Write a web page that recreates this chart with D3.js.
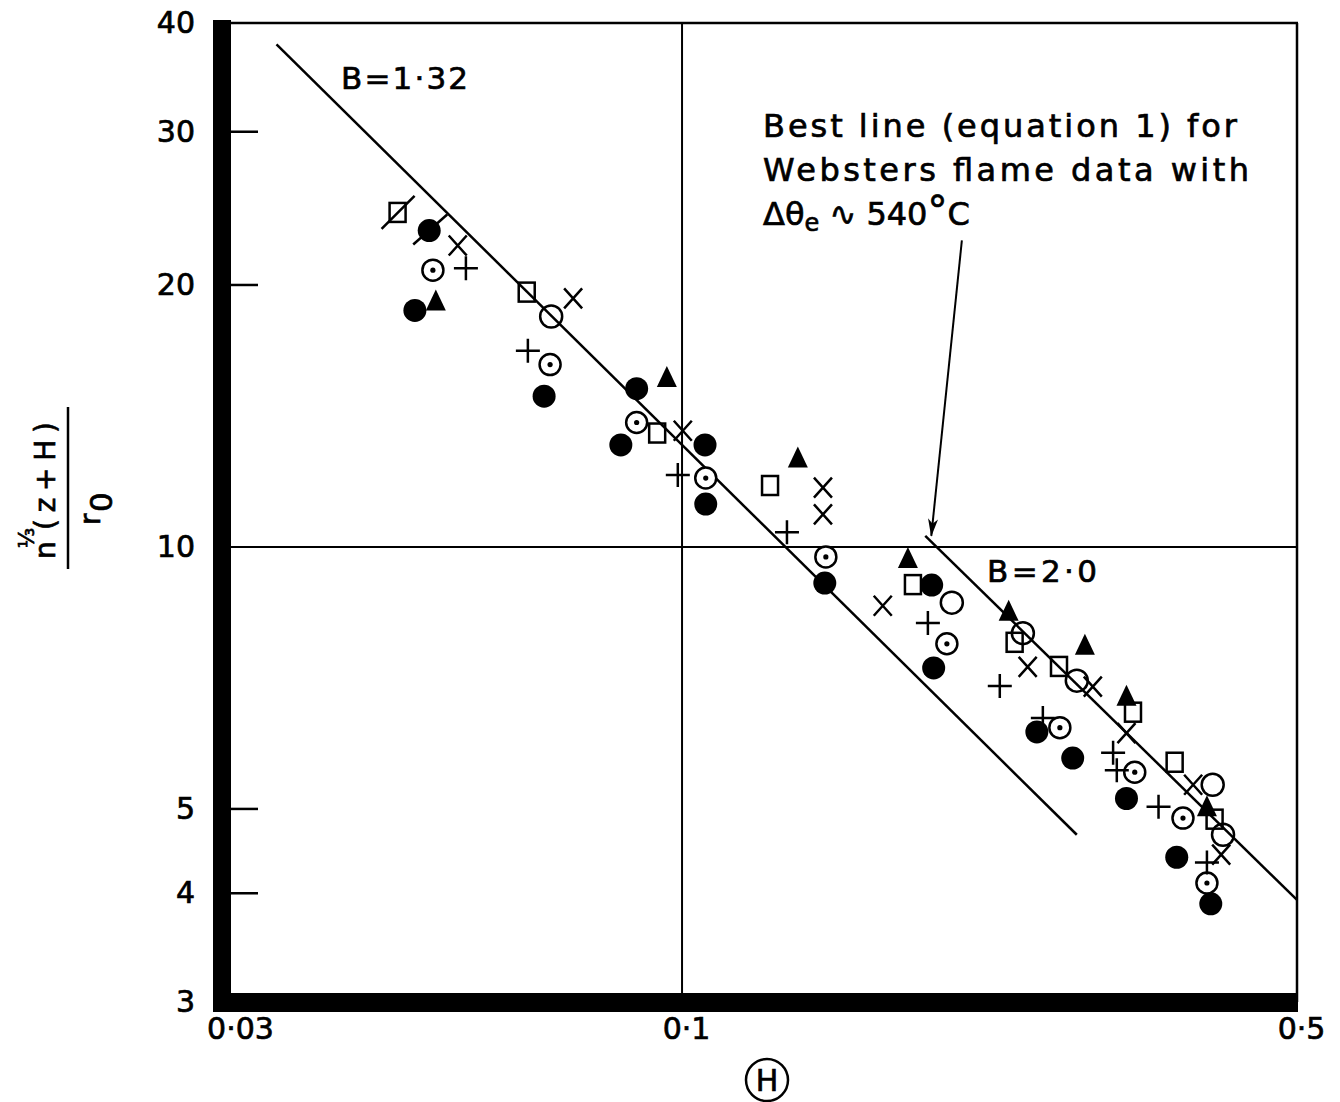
<!DOCTYPE html>
<html>
<head>
<meta charset="utf-8">
<script src="https://cdn.jsdelivr.net/npm/d3@7"></script>
<style>
  body { margin: 0; background: #fff; }
  svg { display: block; }
  text { font-family: "DejaVu Sans", sans-serif; fill: #000; stroke: #000; stroke-width: 0.7px; }
</style>
</head>
<body>
<svg id="chart" width="1340" height="1102"></svg>
<script>
// tick values
const xTicks = [0.03, 0.1, 0.5];
const yTicks = [3, 4, 5, 10, 20, 30, 40];
const yMarks = [4, 5, 20, 30];
const xGrid = [0.1];
const yGrid = [10];

// data  [H, n^(1/3)(z+H)/r0]
const filledDots = [[0.0516,23.1],[0.0497,18.7],[0.0697,14.9],[0.0888,15.2],[0.0852,13.1],[0.1062,13.1],
  [0.1064,11.2],[0.1453,9.09],[0.1922,9.04],[0.1932,7.26],[0.2531,6.13],[0.278,5.72],[0.320,5.14],
  [0.365,4.40],[0.399,3.89]];
const slashedDots = [[0.0516,23.1]];
const dottedCircles = [[0.0521,20.8],[0.0708,16.2],[0.0888,13.9],[0.1064,12.0],[0.1457,9.74],[0.200,7.74],
  [0.2688,6.20],[0.327,5.51],[0.371,4.88],[0.395,4.11]];
const openCircles = [[0.0710,18.4],[0.2026,8.63],[0.2440,7.96],[0.2810,7.02],[0.401,5.33],[0.412,4.67]];
const squares = [[0.0666,19.6],[0.0937,13.5],[0.1259,11.75],[0.1830,9.04],[0.2388,7.76],[0.2682,7.28],
  [0.3255,6.45],[0.363,5.65],[0.403,4.86]];
const slashedSquares = [[0.0475,24.2]];
const triangles = [[0.0525,19.1],[0.0961,15.6],[0.1354,12.6],[0.1806,9.66],[0.2351,8.40],[0.287,7.68],
  [0.320,6.71],[0.395,5.01]];
const crosses = [[0.0556,22.2],[0.0752,19.3],[0.1002,13.6],[0.1446,11.7],[0.1446,10.9],[0.1691,8.56],
  [0.2471,7.28],[0.293,6.91],[0.320,6.11],[0.381,5.33],[0.410,4.43]];
const pluses = [[0.0568,20.9],[0.0668,16.8],[0.0989,12.1],[0.1316,10.4],[0.1903,8.18],[0.2297,6.92],
  [0.2571,6.36],[0.309,5.80],[0.312,5.54],[0.348,5.03],[0.395,4.34]];

// the two B lines and the arrow
const lineB132 = [[0.0346,37.8],[0.281,4.67]];
const lineB20 = [[0.189,10.3],[0.5,3.93]];
const arrowLine = [[0.208,22.5],[0.192,10.3]];

let width = 1340, height = 1102;
let x = d3.scaleLog().domain([0.03, 0.5]).range([222, 1297]);
let y = d3.scaleLog().domain([3, 40]).range([1002, 23]);

let svg = d3.select('#chart');
svg.append('rect').attr('width', width).attr('height', height).attr('fill', '#fff');

svg.append('defs').append('marker')
  .attr('id', 'arrow')
  .attr('markerUnits', 'userSpaceOnUse')
  .attr('viewBox', '0 0 18 10')
  .attr('refX', 17).attr('refY', 5)
  .attr('markerWidth', 18).attr('markerHeight', 10)
  .attr('orient', 'auto')
  .append('path').attr('d', 'M0,0 L18,5 L0,10 L5,5 Z').attr('fill', '#000');

let x0 = x(0.03), x1 = x(0.5), yTop = y(40), yBot = y(3);

// grid lines
svg.append('g').selectAll('line').data(xGrid).join('line')
  .attr('x1', d => x(d)).attr('x2', d => x(d))
  .attr('y1', yTop).attr('y2', yBot)
  .attr('stroke', '#000').attr('stroke-width', 2);
svg.append('g').selectAll('line').data(yGrid).join('line')
  .attr('x1', x0).attr('x2', x1)
  .attr('y1', d => y(d)).attr('y2', d => y(d))
  .attr('stroke', '#000').attr('stroke-width', 2);

// frame: thin top and right, heavy left and bottom
svg.append('line').attr('x1', x0).attr('x2', x1 + 1).attr('y1', yTop).attr('y2', yTop)
  .attr('stroke', '#000').attr('stroke-width', 2.5);
svg.append('line').attr('x1', x1).attr('x2', x1).attr('y1', yTop).attr('y2', yBot)
  .attr('stroke', '#000').attr('stroke-width', 2.5);
svg.append('rect').attr('x', x0 - 9).attr('y', yTop - 3).attr('width', 18).attr('height', yBot - yTop + 13).attr('fill', '#000');
svg.append('rect').attr('x', x0 - 9).attr('y', yBot - 9).attr('width', x1 - x0 + 10).attr('height', 19).attr('fill', '#000');

// short inner tick marks
svg.append('g').selectAll('line').data(yMarks).join('line')
  .attr('x1', x0 + 8).attr('x2', x0 + 36)
  .attr('y1', d => y(d)).attr('y2', d => y(d))
  .attr('stroke', '#000').attr('stroke-width', 2.5);

// axes labels
let dotFmt = d => String(d).replace('.', '\u00B7');
svg.append('g')
  .attr('transform', 'translate(' + x0 + ',0)')
  .call(d3.axisLeft(y).tickValues(yTicks).tickSize(0).tickPadding(27).tickFormat(d3.format('d')))
  .attr('font-family', 'DejaVu Sans').attr('font-size', 30)
  .call(g => g.select('.domain').remove());
svg.append('g')
  .attr('transform', 'translate(0,' + yBot + ')')
  .call(d3.axisBottom(x).tickValues(xTicks).tickSize(0).tickPadding(16).tickFormat(dotFmt))
  .attr('font-family', 'DejaVu Sans').attr('font-size', 30)
  .call(g => g.select('.domain').remove())
  .call(g => g.selectAll('.tick text').attr('dx', (d, i) => i == 0 ? 18 : 4));

// x title: circled H
svg.append('circle').attr('cx', 767).attr('cy', 1080).attr('r', 21)
  .attr('fill', 'none').attr('stroke', '#000').attr('stroke-width', 2.5);
svg.append('text').attr('x', 767).attr('y', 1091).attr('text-anchor', 'middle')
  .attr('font-size', 30).text('H');

// y title: rotated fraction
let yt = svg.append('g').attr('transform', 'translate(68,488) rotate(-90)');
yt.append('line').attr('x1', -81).attr('x2', 81).attr('y1', 0).attr('y2', 0)
  .attr('stroke', '#000').attr('stroke-width', 2.5);
yt.append('text').attr('x', -62).attr('y', -13).attr('text-anchor', 'middle').attr('font-size', 28).text('n');
yt.append('text').attr('x', -50).attr('y', -34).attr('text-anchor', 'middle').attr('font-size', 21).text('\u2153');
yt.append('text').attr('x', -42).attr('y', -13).attr('font-size', 28)
  .attr('textLength', 108).attr('lengthAdjust', 'spacing').text('(z+H)');
yt.append('text').attr('x', -37).attr('y', 32).attr('font-size', 28).text('r');
yt.append('text').attr('x', -24).attr('y', 44).attr('font-size', 31).text('0');

// fitted lines
let line = d3.line().x(d => x(d[0])).y(d => y(d[1]));
svg.append('path').datum(lineB132).attr('d', line)
  .attr('fill', 'none').attr('stroke', '#000').attr('stroke-width', 2.5);
svg.append('path').datum(lineB20).attr('d', line)
  .attr('fill', 'none').attr('stroke', '#000').attr('stroke-width', 2.5);
svg.append('path').datum(arrowLine).attr('d', line)
  .attr('fill', 'none').attr('stroke', '#000').attr('stroke-width', 2)
  .attr('marker-end', 'url(#arrow)');

// markers
function place(data) {
  return svg.append('g').selectAll(null).data(data).enter().append('g')
    .attr('transform', d => 'translate(' + x(d[0]) + ',' + y(d[1]) + ')');
}
place(slashedSquares).append('path').attr('d', 'M-16,16 L17,-17')
  .attr('stroke', '#000').attr('stroke-width', 2.5);
place(slashedDots).append('path').attr('d', 'M-16,14 L18,-16')
  .attr('stroke', '#000').attr('stroke-width', 2.5);

place(filledDots).append('circle').attr('r', 11.5).attr('fill', '#000');

let dc = place(dottedCircles);
dc.append('circle').attr('r', 10.5).attr('fill', '#fff').attr('stroke', '#000').attr('stroke-width', 2.5);
dc.append('circle').attr('r', 2.6).attr('fill', '#000');

place(openCircles).append('circle').attr('r', 11)
  .attr('fill', 'none').attr('stroke', '#000').attr('stroke-width', 2.5);

place(squares.concat(slashedSquares)).append('rect')
  .attr('x', -8).attr('y', -10).attr('width', 16).attr('height', 19)
  .attr('fill', 'none').attr('stroke', '#000').attr('stroke-width', 2.5);

place(triangles).append('path').attr('d', 'M0,-13 L10,8 L-10,8 Z').attr('fill', '#000');

place(crosses).append('path').attr('d', 'M-9,-10 L9,10 M-9,10 L9,-10')
  .attr('stroke', '#000').attr('stroke-width', 2.5);

place(pluses).append('path').attr('d', 'M-12,0 L12,0 M0,-12 L0,12')
  .attr('stroke', '#000').attr('stroke-width', 2.5);

// annotations
svg.append('text').attr('x', 341).attr('y', 89).attr('font-size', 31)
  .attr('textLength', 127).attr('lengthAdjust', 'spacing').text('B=1\u00B732');
svg.append('text').attr('x', 987).attr('y', 582).attr('font-size', 31)
  .attr('textLength', 110).attr('lengthAdjust', 'spacing').text('B=2\u00B70');

let note = svg.append('g').attr('font-size', 32);
note.append('text').attr('x', 763).attr('y', 137)
  .attr('textLength', 474).attr('lengthAdjust', 'spacing').text('Best line (equation 1) for');
note.append('text').attr('x', 763).attr('y', 181)
  .attr('textLength', 486).attr('lengthAdjust', 'spacing').text('Websters flame data with');
let t3 = note.append('text').attr('x', 763).attr('y', 225);
t3.append('tspan').text('\u0394\u03B8');
t3.append('tspan').attr('font-size', 24).attr('dy', 6).text('e');
t3.append('tspan').attr('dy', -6).text(' \u223F 540');
t3.append('tspan').attr('font-size', 40).text('\u00B0');
t3.append('tspan').text('C');
</script>
</body>
</html>
